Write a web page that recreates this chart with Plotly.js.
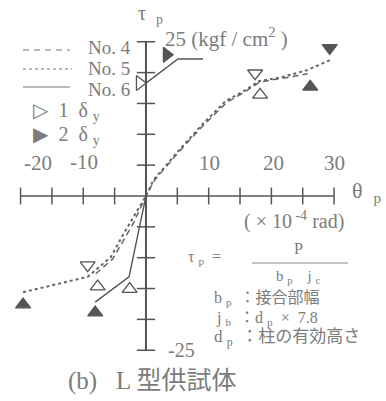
<!DOCTYPE html>
<html>
<head>
<meta charset="utf-8">
<script src="https://cdn.plot.ly/plotly-3.0.1.min.js"></script>
<style>body{margin:0;background:#fff}#chart{width:386px;height:401px}</style>
</head>
<body>
<div id="chart"></div>
<script>
// rotation angle (x1e-4 rad) vs joint shear stress (kgf/cm2)
var no4X = [-8.0, -5.3, -2.0, 0, 1.4, 5.1, 8.9, 12.9, 15.8, 18.2, 21.8, 25.8];
var no4Y = [-12.6, -10.2, -4.4, 0, 2.6, 7.0, 11.2, 15.2, 16.9, 18.5, 19.1, 19.8];
var no5X = [-19.6, -9.3, -5.6, -3.5, 0, 1.2, 5.0, 8.8, 12.7, 15.6, 18.0, 21.8, 25.7, 29.3];
var no5Y = [-15.6, -13.1, -9.9, -6.0, 0, 2.6, 7.1, 11.4, 15.4, 17.0, 18.6, 19.3, 20.4, 22.0];
var no6X = [-8.1, -2.7, 0, 0, 5.1, 9.1];
var no6Y = [-17.2, -13.1, 0, 18.3, 22.2, 22.2];

// 1 delta_y (open) and 2 delta_y (filled) markers
var openDownX = [17.4, -9.3], openDownY = [19.9, -11.2];
var openUpX = [18.2, -7.7, -2.6], openUpY = [16.4, -14.7, -15.1];
var openRightX = [-1.0], openRightY = [18.3];
var fillUpX = [26.2, -8.1, -19.6], fillUpY = [17.7, -18.9, -17.6];
var fillDownX = [29.3], fillDownY = [24.0];
var fillRightX = [3.3], fillRightY = [22.9];

var xTicks = [-20, -15, -10, -5, 5, 10, 15, 20, 25, 30];
var yTicks = [-25, -20, -15, -10, -5, 5, 10, 15, 20, 25];

var W = 386, H = 401;
var FONT = 'Liberation Serif, DejaVu Serif, Noto Sans CJK JP, serif';
var TXT = '#7c7c7c';
var INK = '#555';

function txt(s, x, y, size, anchor) {
    return { text: s, xref: 'paper', yref: 'paper', x: x / W, y: 1 - y / H,
        xanchor: anchor || 'left', yanchor: 'middle', showarrow: false,
        font: { family: FONT, size: size || 17, color: TXT } };
}
function seg(x0, x1, y, dash) {
    return { type: 'line', xref: 'paper', yref: 'paper', x0: x0 / W, x1: x1 / W,
        y0: 1 - y / H, y1: 1 - y / H, line: { color: '#777', width: 1.2, dash: dash || 'solid' } };
}
function marks(x, y, sym) {
    return { x: x, y: y, mode: 'markers', hoverinfo: 'skip',
        marker: { symbol: sym, size: 13, color: INK, line: { color: INK, width: 1.3 } } };
}

var data = [
    { x: xTicks, y: xTicks.map(function () { return 0; }), mode: 'markers', hoverinfo: 'skip',
      marker: { symbol: 'line-ns', size: 12, line: { color: INK, width: 1.5 } } },
    { x: yTicks.map(function () { return 0; }), y: yTicks, mode: 'markers', hoverinfo: 'skip',
      marker: { symbol: 'line-ew', size: 13, line: { color: INK, width: 1.5 } } },
    { x: no4X, y: no4Y, mode: 'lines', line: { color: '#666', width: 1.5, dash: '6px,4px' }, name: 'No.4' },
    { x: no5X, y: no5Y, mode: 'lines', line: { color: '#666', width: 2, dash: 'dot' }, name: 'No.5' },
    { x: no6X, y: no6Y, mode: 'lines', line: { color: '#555', width: 1.4 }, name: 'No.6' },
    marks(openDownX, openDownY, 'triangle-down-open'),
    marks(openUpX, openUpY, 'triangle-up-open'),
    marks(openRightX, openRightY, 'triangle-right-open'),
    marks(fillUpX, fillUpY, 'triangle-up'),
    marks(fillDownX, fillDownY, 'triangle-down'),
    marks(fillRightX, fillRightY, 'triangle-right')
];

var layout = {
    width: W, height: H,
    margin: { l: 0, r: 0, t: 0, b: 0 },
    paper_bgcolor: '#fff', plot_bgcolor: '#fff',
    showlegend: false,
    xaxis: { range: [-23.28, 38.28], showgrid: false, zeroline: false, showticklabels: false, ticks: '' },
    yaxis: { range: [-33.23, 31.77], showgrid: false, zeroline: false, showticklabels: false, ticks: '' },
    shapes: [
        { type: 'line', x0: -20, x1: 30, y0: 0, y1: 0, line: { color: INK, width: 1.6 } },
        { type: 'line', x0: 0, x1: 0, y0: -25, y1: 25, line: { color: INK, width: 2 } },
        seg(23, 70, 50, '6px,5px'),
        seg(23, 72, 69, 'dot'),
        seg(23, 70, 87),
        { type: 'line', xref: 'paper', yref: 'paper', x0: 252 / W, x1: 348 / W,
          y0: 1 - 263 / H, y1: 1 - 263 / H, line: { color: '#888', width: 1 } }
    ],
    annotations: [
        txt('τ  <sub>p</sub>', 136, 14, 20),
        txt('25 (kgf / cm<sup>2</sup> )', 163, 37, 21),
        txt('No. 4', 86, 47, 19),
        txt('No. 5', 86, 68, 19),
        txt('No. 6', 86, 89, 19),
        txt('▷  1  δ <sub>y</sub>', 31, 112, 20),
        txt('▶  2  δ <sub>y</sub>', 31, 135, 20),
        txt('-20', 22, 163, 21),
        txt('-10', 68, 162, 21),
        txt('10', 209, 163, 21, 'center'),
        txt('20', 273, 163, 21, 'center'),
        txt('30', 334, 163, 21, 'center'),
        txt('θ  <sub>p</sub>', 350, 192, 22),
        txt('( × 10<sup> -4</sup> rad)', 242, 220, 20),
        txt('τ <sub>p</sub>  =', 186, 257, 16),
        txt('P', 298, 248, 16, 'center'),
        txt('b <sub>p</sub>    j <sub>c</sub>', 298, 277, 15, 'center'),
        txt('b <sub>p</sub>  ：接合部幅', 212, 298, 16),
        txt('j <sub>b</sub>  ：d <sub>p</sub>  ×  7.8', 214, 318, 16),
        txt('d <sub>p</sub>  ：柱の有効高さ', 212, 338, 17),
        txt('-25', 166, 350, 20),
        txt('(b)   L 型供試体', 66, 381, 25)
    ]
};

Plotly.newPlot('chart', data, layout, { displayModeBar: false });
</script>
</body>
</html>
